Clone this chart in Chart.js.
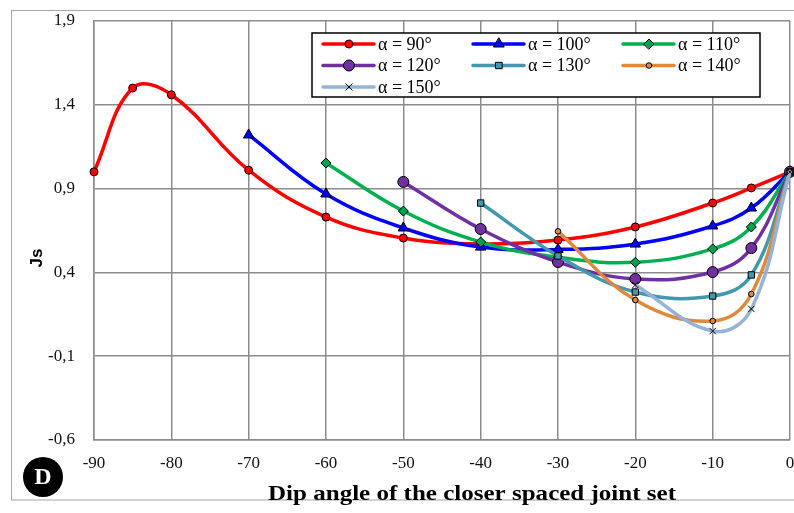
<!DOCTYPE html>
<html>
<head>
<meta charset="utf-8">
<script src="https://cdn.jsdelivr.net/npm/chart.js@4/dist/chart.umd.min.js"></script>
<style>
    html, body { margin: 0; padding: 0; background: #fff; }
</style>
</head>
<body>
<canvas id="chart" width="794" height="513"></canvas>
<script>
// dip angles (x) and Js values (y) for each alpha series
const dip90 = [-90, -85, -80, -70, -60, -50, -40, -30, -20, -10, -5, 0];
const js90 = [1.00, 1.50, 1.46, 1.01, 0.73, 0.605, 0.57, 0.593, 0.671, 0.814, 0.904, 1.00];

const dip100 = [-70, -60, -50, -40, -30, -20, -10, -5, 0];
const js100 = [1.22, 0.868, 0.665, 0.551, 0.537, 0.569, 0.677, 0.784, 1.00];

const dip110 = [-60, -50, -40, -30, -20, -10, -5, 0];
const js110 = [1.053, 0.766, 0.581, 0.49, 0.46, 0.540, 0.671, 1.00];

const dip120 = [-50, -40, -30, -20, -10, -5, 0];
const js120 = [0.94, 0.659, 0.462, 0.361, 0.402, 0.545, 1.00];

const dip130 = [-40, -30, -20, -10, -5, 0];
const js130 = [0.814, 0.498, 0.283, 0.259, 0.385, 1.00];

const dip140 = [-30, -20, -10, -5, 0];
const js140 = [0.645, 0.235, 0.110, 0.271, 1.00];

const dip150 = [-20, -10, -5, 0];
const js150 = [0.325, 0.050, 0.182, 1.00];

const seriesLabels = ['α = 90°', 'α = 100°', 'α = 110°', 'α = 120°', 'α = 130°', 'α = 140°', 'α = 150°'];
const xTitle = 'Dip angle of the closer spaced joint set';
const yTitle = 'Js';
const panelLetter = 'D';

const serif = '"Liberation Serif", "Times New Roman", serif';

const styles = [
    {color: '#ff0000', point: 'circle', radius: 4, fill: '#ff0000', pb: '#000'},
    {color: '#0000ff', point: 'triangle', radius: 6, fill: '#0000ff', pb: '#000'},
    {color: '#00b050', point: 'rectRot', radius: 5, fill: '#00a050', pb: '#000'},
    {color: '#7030a0', point: 'circle', radius: 5.5, fill: '#7030a0', pb: '#000'},
    {color: '#4198af', point: 'rect', radius: 4.5, fill: '#4198af', pb: '#000'},
    {color: '#e0883c', point: 'circle', radius: 2.8, fill: '#e0883c', pb: '#000'},
    {color: '#95b3d7', point: 'crossRot', radius: 4.5, fill: '#000', pb: '#000'}
];

const toPoints = (xs, ys) => xs.map((x, i) => ({x: x, y: ys[i]}));

const allX = [dip90, dip100, dip110, dip120, dip130, dip140, dip150];
const allY = [js90, js100, js110, js120, js130, js140, js150];

const datasets = allX.map((xs, i) => ({
    label: seriesLabels[i],
    data: toPoints(xs, allY[i]),
    borderColor: styles[i].color,
    borderWidth: 3.5,
    tension: 0.4,
    pointStyle: styles[i].point,
    pointRadius: styles[i].radius,
    pointBackgroundColor: styles[i].fill,
    pointBorderColor: styles[i].pb,
    pointBorderWidth: 1,
    order: 10 - i,
    clip: false
}));

const framePlugin = {
    id: 'frame',
    beforeDraw(chart) {
        const ctx = chart.ctx;
        ctx.save();
        ctx.fillStyle = '#fff';
        ctx.fillRect(0, 0, chart.width, chart.height);
        ctx.strokeStyle = '#a6a6a6';
        ctx.lineWidth = 1;
        ctx.strokeRect(11.5, 10.5, chart.width, 489.5);
        ctx.restore();
    },
    afterDraw(chart) {
        const ctx = chart.ctx;
        ctx.save();

        //region legend box
        const bx = 312, by = 33, bw = 448, bh = 64;
        ctx.fillStyle = '#fff';
        ctx.fillRect(bx, by, bw, bh);
        ctx.strokeStyle = '#000';
        ctx.lineWidth = 1.5;
        ctx.strokeRect(bx, by, bw, bh);
        chart.data.datasets.forEach((ds, i) => {
            const col = i % 3, row = Math.floor(i / 3);
            const x0 = 323 + col * 150;
            const y0 = 44 + row * 21.5;
            ctx.strokeStyle = ds.borderColor;
            ctx.lineWidth = 3.5;
            ctx.lineCap = 'round';
            ctx.beginPath();
            ctx.moveTo(x0, y0);
            ctx.lineTo(x0 + 51, y0);
            ctx.stroke();
            ctx.fillStyle = ds.pointBackgroundColor;
            ctx.strokeStyle = ds.pointBorderColor;
            ctx.lineWidth = 1;
            Chart.helpers.drawPoint(ctx, {
                pointStyle: ds.pointStyle,
                radius: ds.pointRadius,
                borderWidth: 1,
                rotation: 0
            }, x0 + 26, y0);
            ctx.fillStyle = '#000';
            ctx.font = '18px ' + serif;
            ctx.textBaseline = 'middle';
            ctx.textAlign = 'left';
            ctx.fillText(ds.label, x0 + 55, y0 + 1);
        });
        //endregion

        // y axis title
        ctx.fillStyle = '#000';
        ctx.font = 'bold 17px "Liberation Sans", Arial, sans-serif';
        ctx.textAlign = 'center';
        ctx.textBaseline = 'middle';
        ctx.save();
        ctx.translate(37, 258);
        ctx.rotate(-Math.PI / 2);
        ctx.fillText(yTitle, 0, 0);
        ctx.restore();

        // x axis title, squeezed to the width seen in the picture
        ctx.font = 'bold 22px ' + serif;
        const w = ctx.measureText(xTitle).width;
        ctx.save();
        ctx.translate(472, 494);
        ctx.scale(408 / w, 1);
        ctx.fillText(xTitle, 0, 0);
        ctx.restore();

        // panel badge
        ctx.fillStyle = '#000';
        ctx.beginPath();
        ctx.arc(43, 477, 20, 0, Math.PI * 2);
        ctx.fill();
        ctx.fillStyle = '#fff';
        ctx.font = 'bold 24px ' + serif;
        ctx.fillText(panelLetter, 43, 478);

        ctx.restore();
    }
};

const gridColor = '#8c8c8c';

const config = {
    type: 'line',
    data: {datasets: datasets},
    options: {
        responsive: false,
        animation: false,
        events: [],
        layout: {
            autoPadding: false,
            padding: {top: 21, right: 4, left: 0, bottom: 0}
        },
        plugins: {
            legend: {display: false},
            tooltip: {enabled: false}
        },
        scales: {
            x: {
                type: 'linear',
                min: -90,
                max: 0,
                ticks: {
                    stepSize: 10,
                    padding: 13,
                    color: '#111',
                    font: {family: serif, size: 17}
                },
                grid: {color: gridColor, lineWidth: 1.5, drawTicks: false},
                border: {color: gridColor, width: 1.5},
                afterFit: (scale) => {
                    scale.height = 73;
                    scale.paddingLeft = 0;
                    scale.paddingRight = 0;
                }
            },
            y: {
                min: -0.6,
                max: 1.9,
                ticks: {
                    stepSize: 0.5,
                    padding: 19,
                    color: '#111',
                    font: {family: serif, size: 17},
                    callback: (v) => v.toFixed(1).replace('.', ',')
                },
                grid: {color: gridColor, lineWidth: 1.5, drawTicks: false},
                border: {color: gridColor, width: 1.5},
                afterFit: (scale) => {
                    scale.width = 94;
                    scale.paddingTop = 0;
                    scale.paddingBottom = 0;
                }
            }
        }
    },
    plugins: [framePlugin]
};

window.onload = () => {
    let ctx = document.getElementById('chart').getContext('2d');
    window.myChart = new Chart(ctx, config);
};
</script>
</body>
</html>
